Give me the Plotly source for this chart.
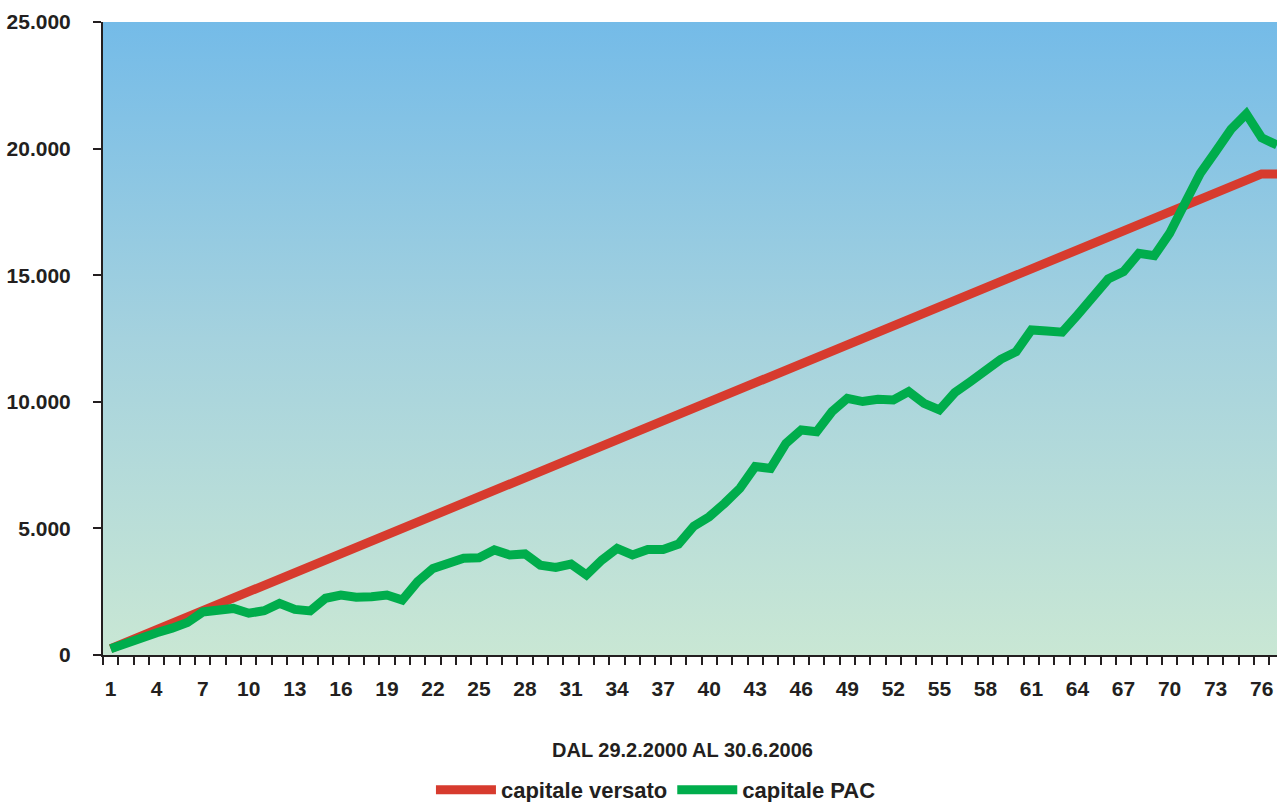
import base64
import plotly.graph_objects as go

# ---- data ----
months = list(range(1, 78))
x_tick_labels = [str(v) for v in range(1, 77, 3)]
x_tick_vals = list(range(1, 77, 3))

capitale_versato = [
    250, 500, 750, 1000, 1250, 1500, 1750, 2000, 2250, 2500,
    2750, 3000, 3250, 3500, 3750, 4000, 4250, 4500, 4750, 5000,
    5250, 5500, 5750, 6000, 6250, 6500, 6750, 7000, 7250, 7500,
    7750, 8000, 8250, 8500, 8750, 9000, 9250, 9500, 9750, 10000,
    10250, 10500, 10750, 11000, 11250, 11500, 11750, 12000, 12250, 12500,
    12750, 13000, 13250, 13500, 13750, 14000, 14250, 14500, 14750, 15000,
    15250, 15500, 15750, 16000, 16250, 16500, 16750, 17000, 17250, 17500,
    17750, 18000, 18250, 18500, 18750, 19000, 19000,
]

capitale_pac = [
    250, 480, 700, 880, 1060, 1280, 1700, 1780, 1840, 1650,
    1750, 2040, 1800, 1740, 2240, 2370, 2280, 2300, 2370, 2170,
    2900, 3420, 3620, 3820, 3840, 4150, 3950, 3990, 3550, 3460,
    3590, 3160, 3750, 4210, 3950, 4170, 4170, 4380, 5090, 5460,
    5990, 6580, 7440, 7370, 8360, 8890, 8820, 9610, 10140, 10010,
    10100, 10070, 10400, 9940, 9680, 10360, 10790, 11260, 11680, 11980,
    12840, 12800, 12750, 13430, 14150, 14850, 15140, 15860, 15770, 16650,
    17840, 19020, 19880, 20760, 21370, 20430, 20140,
]

y_tick_vals = [0, 5000, 10000, 15000, 20000, 25000]

# ---- styles ----
FONT = "Liberation Sans Narrow, Liberation Sans, Arial, sans-serif"
TXT = "#231F20"
RED = "#D73B2E"
GREEN = "#00AD4C"

svg = (
    '<svg xmlns="http://www.w3.org/2000/svg" width="100" height="100" preserveAspectRatio="none">'
    '<defs><linearGradient id="g" x1="0" y1="0" x2="0" y2="1">'
    '<stop offset="0" stop-color="#74BBE8"/>'
    '<stop offset="0.5" stop-color="#A5D2DE"/>'
    '<stop offset="1" stop-color="#C9E7D4"/>'
    '</linearGradient></defs>'
    '<rect width="100" height="100" fill="url(#g)"/></svg>'
)
bg_uri = "data:image/svg+xml;base64," + base64.b64encode(svg.encode()).decode()

fig = go.Figure()
fig.add_trace(go.Scatter(
    x=months, y=capitale_versato, mode="lines", name="capitale versato",
    line=dict(color=RED, width=9),
))
fig.add_trace(go.Scatter(
    x=months, y=capitale_pac, mode="lines", name="capitale PAC",
    line=dict(color=GREEN, width=9),
))

fig.add_layout_image(dict(
    source=bg_uri, xref="paper", yref="paper", x=0, y=1,
    sizex=1, sizey=1, sizing="stretch", layer="below", xanchor="left", yanchor="top",
))

fig.update_layout(
    width=1277, height=802,
    margin=dict(l=103, r=0, t=22, b=147, autoexpand=False),
    paper_bgcolor="white",
    plot_bgcolor="rgba(0,0,0,0)",
    separators=",.",
    font=dict(family=FONT, size=21, color=TXT, weight="bold"),
    showlegend=True,
    legend=dict(
        orientation="h", x=0.471, xanchor="center", y=-0.213, yanchor="middle",
        font=dict(family=FONT, size=22, color=TXT, weight="bold"),
        bgcolor="rgba(0,0,0,0)", itemwidth=60,
    ),
    annotations=[dict(
        text="DAL 29.2.2000 AL 30.6.2006", xref="paper", yref="paper",
        x=0.494, y=-0.150, xanchor="center", yanchor="middle", showarrow=False,
        font=dict(family=FONT, size=20, color=TXT, weight="bold"),
    )],
)

fig.update_xaxes(
    range=[0.5, 77], tickmode="array", tickvals=x_tick_vals, ticktext=x_tick_labels,
    ticks="", showgrid=False, zeroline=False, automargin=False,
    showline=True, linecolor="#231F20", linewidth=2,
    tickfont=dict(family=FONT, size=21, color=TXT, weight="bold"),
    minor=dict(tick0=0.5, dtick=1, ticks="outside", ticklen=8, tickwidth=2,
               tickcolor="#231F20", showgrid=False),
    ticklabelstandoff=14,
)
fig.update_yaxes(
    range=[0, 25000], tickmode="array", tickvals=y_tick_vals, tickformat=",d",
    ticks="outside", ticklen=8, tickwidth=2, tickcolor="#231F20",
    showgrid=False, zeroline=False, automargin=False,
    showline=True, linecolor="#231F20", linewidth=2,
    tickfont=dict(family=FONT, size=21, color=TXT, weight="bold"),
    ticklabelstandoff=18,
)

# remove the default 8px page margin so the figure fills the window exactly
fig.write_html(
    "out.html",
    config={"displayModeBar": False},
    post_script="document.body.style.margin='0';"
                "document.documentElement.style.overflow='hidden';",
)
